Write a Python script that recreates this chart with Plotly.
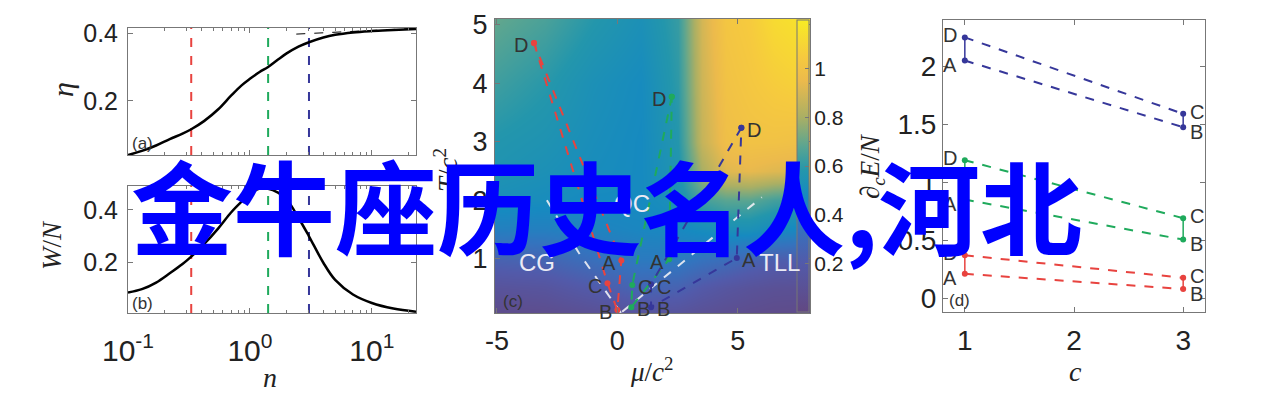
import plotly.graph_objects as go

# page is 1269x401; the html body adds an 8px margin, so the figure itself is smaller
PAGE_W, PAGE_H, PAD = 1269, 401, 8
W, H = PAGE_W - 2 * PAD, PAGE_H - 2 * PAD

# ---- panels (a) and (b): eta and W/N against n ----
n_vals = [0.1, 0.13, 0.17, 0.22, 0.28, 0.33, 0.42, 0.55, 0.7, 0.85, 1.0, 1.2, 1.41,
          1.7, 2.0, 2.5, 3.05, 4, 5, 7, 10, 15, 23]
eta_vals = [0.04, 0.052, 0.068, 0.087, 0.103, 0.116, 0.14, 0.175, 0.215, 0.245, 0.265,
            0.285, 0.30, 0.322, 0.34, 0.36, 0.373, 0.387, 0.395, 0.402, 0.406, 0.409, 0.412]
work_vals = [0.087, 0.10, 0.125, 0.16, 0.195, 0.223, 0.27, 0.33, 0.39, 0.43, 0.46, 0.48,
             0.48, 0.465, 0.44, 0.37, 0.30, 0.20, 0.135, 0.08, 0.048, 0.027, 0.015]
asym_n = [2.4, 23]
asym_eta = [0.397, 0.414]
marked_n = [0.33, 1.41, 3.05]

# ---- panel (c): background map and cycles in (mu, T) ----
map_mu = [-5.5, -3, -1, 1, 2.5, 3.5, 4.5, 5.5, 6.5, 8.5]
map_T = [-0.2, 0.5, 1, 1.5, 2, 2.5, 3, 4, 5.4]
map_z = [
    [0.00, 0.01, 0.03, 0.05, 0.05, 0.04, 0.03, 0.02, 0.01, 0.01],
    [0.12, 0.14, 0.20, 0.27, 0.25, 0.19, 0.15, 0.12, 0.10, 0.09],
    [0.25, 0.27, 0.33, 0.39, 0.39, 0.35, 0.32, 0.27, 0.23, 0.21],
    [0.42, 0.42, 0.44, 0.46, 0.47, 0.50, 0.53, 0.53, 0.49, 0.45],
    [0.52, 0.50, 0.48, 0.48, 0.53, 0.64, 0.68, 0.68, 0.64, 0.60],
    [0.56, 0.53, 0.50, 0.48, 0.56, 0.80, 0.92, 0.94, 0.92, 0.90],
    [0.58, 0.55, 0.51, 0.48, 0.58, 0.86, 0.98, 1.00, 1.00, 0.98],
    [0.64, 0.59, 0.53, 0.49, 0.60, 0.88, 1.00, 1.03, 1.06, 1.10],
    [0.72, 0.67, 0.60, 0.54, 0.62, 0.90, 1.03, 1.06, 1.14, 1.20],
]
cycle_names = ["D", "C", "B", "A", "D"]
red_mu = [-3.46, -0.41, 0.0, 0.165, -3.46]
red_T = [4.69, 0.58, 0.12, 0.97, 4.69]
green_mu = [2.26, 0.62, 0.58, 2.15, 2.26]
green_T = [3.77, 0.55, 0.17, 0.99, 3.77]
blue_mu = [5.15, 1.40, 1.40, 4.96, 5.15]
blue_T = [3.24, 0.56, 0.17, 1.01, 3.24]
left_mu = [0.15, -1.6, -3.0]
left_T = [0.07, 1.1, 2.05]
right_mu = [0.2, 6.0]
right_T = [0.09, 2.05]

# ---- panel (d): dE/N against c ----
c_vals = [1, 3]
blue_DC = [2.25, 1.59]
blue_AB = [2.05, 1.475]
green_DC = [1.19, 0.69]
green_AB = [0.85, 0.505]
red_DC = [0.37, 0.175]
red_AB = [0.21, 0.078]

RED = "#e8433f"
GREEN = "#1faa5c"
BLUE = "#36379a"
GRID = "#777777"
TXT = "#222222"
SANS = "Liberation Sans, Arial, sans-serif"
SERIF = "Liberation Serif, Times New Roman, serif"


def px(x):
    return (x - PAD) / W


def py(y):
    return 1 - (y - PAD) / H


def dom_x(a, b):
    return [px(a), px(b)]


def dom_y(top, bottom):
    return [py(bottom), py(top)]


def frame(size, **kw):
    d = dict(showline=True, mirror="ticks", linecolor=GRID, linewidth=1, ticks="inside",
             ticklen=5, tickcolor=GRID, showgrid=False, zeroline=False, automargin=False,
             tickfont=dict(family=SANS, size=size, color=TXT))
    d.update(kw)
    return d


fig = go.Figure()

# panels a, b
for i, yv in [(1, eta_vals), (2, work_vals)]:
    xa = "x" if i == 1 else "x2"
    ya = "y" if i == 1 else "y2"
    lo, hi = (0.04, 0.415) if i == 1 else (0.01, 0.49)
    for nv, col in zip(marked_n, [RED, GREEN, BLUE]):
        fig.add_trace(go.Scatter(x=[nv, nv], y=[lo, hi], mode="lines", xaxis=xa, yaxis=ya,
                                 line=dict(color=col, width=2, dash="dash"), showlegend=False))
    fig.add_trace(go.Scatter(x=n_vals, y=yv, mode="lines", xaxis=xa, yaxis=ya,
                             line=dict(color="black", width=2.5, shape="spline"), showlegend=False))
fig.add_trace(go.Scatter(x=asym_n, y=asym_eta, mode="lines", xaxis="x", yaxis="y",
                         line=dict(color="black", width=1, dash="dash"), showlegend=False))

# panel c
colorscale = [
    [0.0, "rgb(98,72,130)"], [0.167, "rgb(82,90,170)"], [0.292, "rgb(52,115,190)"],
    [0.4, "rgb(22,138,192)"], [0.483, "rgb(35,150,172)"], [0.567, "rgb(90,165,145)"],
    [0.667, "rgb(170,175,100)"], [0.792, "rgb(236,186,76)"], [0.875, "rgb(246,202,62)"],
    [1.0, "rgb(248,236,36)"],
]
fig.add_trace(go.Heatmap(
    x=map_mu, y=map_T, z=map_z, zsmooth="best", zmin=0, zmax=1.2, xaxis="x3", yaxis="y3",
    colorscale=colorscale, showscale=True,
    colorbar=dict(x=px(797), xanchor="left", y=py(166), yanchor="middle",
                  len=292 / H, lenmode="fraction", thickness=12, thicknessmode="pixels",
                  xpad=0, ypad=0, outlinecolor=GRID, outlinewidth=1, ticks="inside",
                  ticklen=4, tickcolor=GRID, tickvals=[0.2, 0.4, 0.6, 0.8, 1],
                  ticktext=["0.2", "0.4", "0.6", "0.8", "1"],
                  tickfont=dict(family=SANS, size=21, color=TXT))))
for mx, my in [(left_mu, left_T), (right_mu, right_T)]:
    fig.add_trace(go.Scatter(x=mx, y=my, mode="lines", xaxis="x3", yaxis="y3",
                             line=dict(color="rgba(240,240,245,0.9)", width=2, dash="dash"),
                             showlegend=False))
for mx, my, col in [(red_mu, red_T, RED), (green_mu, green_T, GREEN), (blue_mu, blue_T, BLUE)]:
    fig.add_trace(go.Scatter(x=mx, y=my, mode="lines+markers", xaxis="x3", yaxis="y3",
                             line=dict(color=col, width=2, dash="dash"),
                             marker=dict(color=col, size=6), showlegend=False))

# panel d
for dc, ab, col in [(blue_DC, blue_AB, BLUE), (green_DC, green_AB, GREEN), (red_DC, red_AB, RED)]:
    fig.add_trace(go.Scatter(x=c_vals, y=dc, mode="lines+markers", xaxis="x4", yaxis="y4",
                             line=dict(color=col, width=2, dash="dash"),
                             marker=dict(color=col, size=6), showlegend=False))
    fig.add_trace(go.Scatter(x=c_vals, y=ab, mode="lines+markers", xaxis="x4", yaxis="y4",
                             line=dict(color=col, width=2, dash="dash"),
                             marker=dict(color=col, size=6), showlegend=False))
    for k in range(2):
        fig.add_trace(go.Scatter(x=[c_vals[k], c_vals[k]], y=[dc[k], ab[k]], mode="lines",
                                 xaxis="x4", yaxis="y4", line=dict(color=col, width=1.5),
                                 showlegend=False))

log_major = [0.1, 1, 10]
log_minor = [0.2, 0.3, 0.4, 0.5, 0.6, 0.7, 0.8, 0.9, 2, 3, 4, 5, 6, 7, 8, 9, 20]
log_text = ["10<sup>-1</sup>", "10<sup>0</sup>", "10<sup>1</sup>"]
minor = dict(tickvals=log_minor, ticks="inside", ticklen=3, tickcolor=GRID)

annotations = []


def label(x, y, text, xref, yref, size=20, color="#333333", xanchor="center", family=SANS, **kw):
    annotations.append(dict(x=x, y=y, xref=xref, yref=yref, text=text, showarrow=False,
                            xanchor=xanchor, yanchor="middle",
                            font=dict(family=family, size=size, color=color), **kw))


# panel tags
label(-0.985, 0.075, "(a)", "x", "y", size=17, xanchor="left")
label(-0.985, 0.045, "(b)", "x2", "y2", size=17, xanchor="left")
label(-4.85, 0.26, "(c)", "x3", "y3", size=17, xanchor="left")
label(0.84, -0.02, "(d)", "x4", "y4", size=17, xanchor="left")

# panel c point labels
for mx, my, sides in [(red_mu, red_T, ["l", "l", "l", "l"]),
                      (green_mu, green_T, ["l", "r", "r", "l"]),
                      (blue_mu, blue_T, ["r", "r", "r", "r"])]:
    for k in range(4):
        if sides[k] == "l":
            label(mx[k] - 0.15, my[k] - 0.04, cycle_names[k], "x3", "y3", xanchor="right")
        else:
            label(mx[k] + 0.15, my[k] - 0.04, cycle_names[k], "x3", "y3", xanchor="left")
label(-3.35, 0.94, "CG", "x3", "y3", size=24, color="rgb(235,235,245)")
label(0.6, 1.95, "QC", "x3", "y3", size=24, color="rgb(235,235,245)")
label(6.75, 0.94, "TLL", "x3", "y3", size=24, color="rgb(235,235,245)")

# panel d point labels
for dc, ab in [(blue_DC, blue_AB), (green_DC, green_AB), (red_DC, red_AB)]:
    label(0.95, dc[0] + 0.02, "D", "x4", "y4", xanchor="right")
    label(0.95, ab[0] - 0.04, "A", "x4", "y4", xanchor="right")
    label(3.04, dc[1] + 0.02, "C", "x4", "y4", xanchor="left")
    label(3.04, ab[1] - 0.04, "B", "x4", "y4", xanchor="left")

# axis titles
label(px(63), py(90), "<i>η</i>", "paper", "paper", size=30, color=TXT, family=SERIF,
      textangle=-90)
label(px(52), py(245), "<i>W</i>/<i>N</i>", "paper", "paper", size=27, color=TXT,
      family=SERIF, textangle=-90)
label(px(270), py(377), "<i>n</i>", "paper", "paper", size=28, color=TXT, family=SERIF)
label(px(446), py(170), "<i>T</i>/<i>c</i><sup>2</sup>", "paper", "paper", size=27,
      color=TXT, family=SERIF, textangle=-90)
label(px(652), py(370), "<i>μ</i>/<i>c</i><sup>2</sup>", "paper", "paper", size=27,
      color=TXT, family=SERIF)
label(px(872), py(166), "<i>∂<sub>c</sub>E</i>/<i>N</i>", "paper", "paper", size=27,
      color=TXT, family=SERIF, textangle=-90)
label(px(1075), py(371), "<i>c</i>", "paper", "paper", size=28, color=TXT, family=SERIF)

# overlay caption
annotations.append(dict(x=px(606), y=py(204), xref="paper", yref="paper",
                        text="<b>金牛座历史名人,河北</b>", showarrow=False, xanchor="center",
                        yanchor="middle",
                        font=dict(family="Noto Sans CJK SC", size=102, color="#0000ff")))

fig.update_layout(
    template="none",
    width=W, height=H, margin=dict(l=0, r=0, t=0, b=0, pad=0, autoexpand=False),
    paper_bgcolor="white", plot_bgcolor="white", showlegend=False,
    xaxis=frame(28, domain=dom_x(128, 416), type="log", range=[-1, 1.362], anchor="y",
                tickvals=log_major, ticktext=log_text, showticklabels=False, minor=minor),
    yaxis=frame(25, domain=dom_y(28, 155), range=[0.04, 0.415], anchor="x",
                tickvals=[0.2, 0.4], ticktext=["0.2", "0.4"], ticklabelstandoff=4),
    xaxis2=frame(30, domain=dom_x(128, 416), type="log", range=[-1, 1.362], anchor="y2",
                 tickvals=log_major, ticktext=log_text, minor=minor, ticklabelstandoff=11),
    yaxis2=frame(25, domain=dom_y(186, 313), range=[0.01, 0.49], anchor="x2",
                 tickvals=[0.2, 0.4], ticktext=["0.2", "0.4"], ticklabelstandoff=4),
    xaxis3=frame(27, domain=dom_x(495, 810), range=[-5.08, 8], anchor="y3",
                 tickvals=[-5, 0, 5], ticktext=["-5", "0", "5"], ticklabelstandoff=4),
    yaxis3=frame(27, domain=dom_y(19, 313), range=[0.07, 5.1], anchor="x3",
                 tickvals=[1, 2, 3, 4, 5], ticklabelstandoff=1),
    xaxis4=frame(28, domain=dom_x(943, 1205), range=[0.8, 3.2], anchor="y4",
                 tickvals=[1, 2, 3], ticklabelstandoff=3),
    yaxis4=frame(28, domain=dom_y(20, 312), range=[-0.12, 2.4], anchor="x4",
                 tickvals=[0, 0.5, 1, 1.5, 2], ticktext=["0", "0.5", "1", "1.5", "2"]),
    annotations=annotations,
)

fig.write_html("out.html")
